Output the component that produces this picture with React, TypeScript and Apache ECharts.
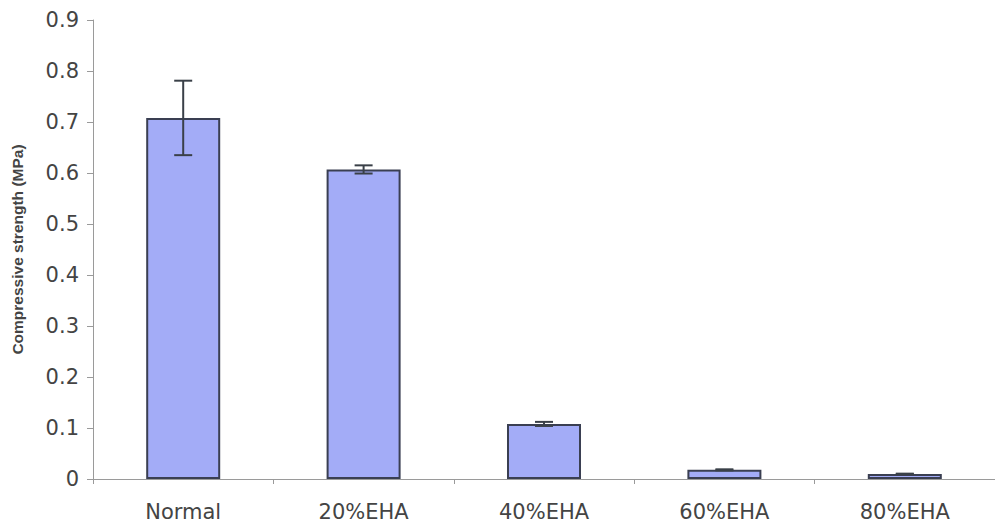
import React, { useEffect, useRef } from "react";
import * as echarts from "echarts";

const categories = ["Normal", "20%EHA", "40%EHA", "60%EHA", "80%EHA"];
const strengths = [0.708, 0.607, 0.108, 0.018, 0.01];
const errors = [0.073, 0.008, 0.004, 0.001, 0.0005];
const yTicks = { min: 0, max: 0.9, interval: 0.1 };

export default function App() {
  const ref = useRef<HTMLDivElement>(null);
  useEffect(() => {
    if (!ref.current) return;
    const chart = echarts.init(ref.current, null, { renderer: "svg" });
    const errData = strengths.map((v, i) => [i, v - errors[i], v + errors[i]]);
    chart.setOption({
      animation: false,
      backgroundColor: "#ffffff",
      grid: { left: 93, right: 0, top: 20, bottom: 51, containLabel: false },
      xAxis: {
        type: "category",
        data: categories,
        axisLine: { lineStyle: { color: "#9a9a9a", width: 1 } },
        axisTick: { show: true, length: 5, lineStyle: { color: "#9a9a9a" } },
        axisLabel: {
          color: "#444444",
          fontFamily: "DejaVu Sans",
          fontSize: 21,
          margin: 22,
        },
      },
      yAxis: {
        type: "value",
        min: yTicks.min,
        max: yTicks.max,
        interval: yTicks.interval,
        name: "Compressive strength (MPa)",
        nameLocation: "middle",
        nameGap: 68,
        nameTextStyle: {
          color: "#444444",
          fontFamily: "Liberation Sans",
          fontWeight: "bold",
          fontSize: 15.5,
        },
        splitLine: { show: false },
        axisLine: { show: true, lineStyle: { color: "#9a9a9a", width: 1 } },
        axisTick: { show: true, length: 6, lineStyle: { color: "#9a9a9a" } },
        axisLabel: {
          color: "#444444",
          fontFamily: "DejaVu Sans",
          fontSize: 21,
          margin: 14,
          formatter: (v: number) => (v === 0 ? "0" : v.toFixed(1)),
        },
      },
      series: [
        {
          type: "bar",
          data: strengths,
          barWidth: 74,
          itemStyle: {
            color: "#a3acf7",
            borderColor: "#3a3f52",
            borderWidth: 2,
          },
        },
        {
          type: "custom",
          data: errData,
          z: 10,
          renderItem: (params: any, api: any) => {
            const x = api.value(0);
            const lo = api.coord([x, api.value(1)]);
            const hi = api.coord([x, api.value(2)]);
            const half = 9;
            const style = { stroke: "#3a4048", lineWidth: 2 };
            return {
              type: "group",
              children: [
                { type: "line", shape: { x1: hi[0], y1: hi[1], x2: lo[0], y2: lo[1] }, style },
                { type: "line", shape: { x1: hi[0] - half, y1: hi[1], x2: hi[0] + half, y2: hi[1] }, style },
                { type: "line", shape: { x1: lo[0] - half, y1: lo[1], x2: lo[0] + half, y2: lo[1] }, style },
              ],
            };
          },
        },
      ],
    });
    return () => chart.dispose();
  }, []);
  return (
    <div
      ref={ref}
      style={{ position: "fixed", left: 0, top: 0, width: 995, height: 530 }}
    />
  );
}
